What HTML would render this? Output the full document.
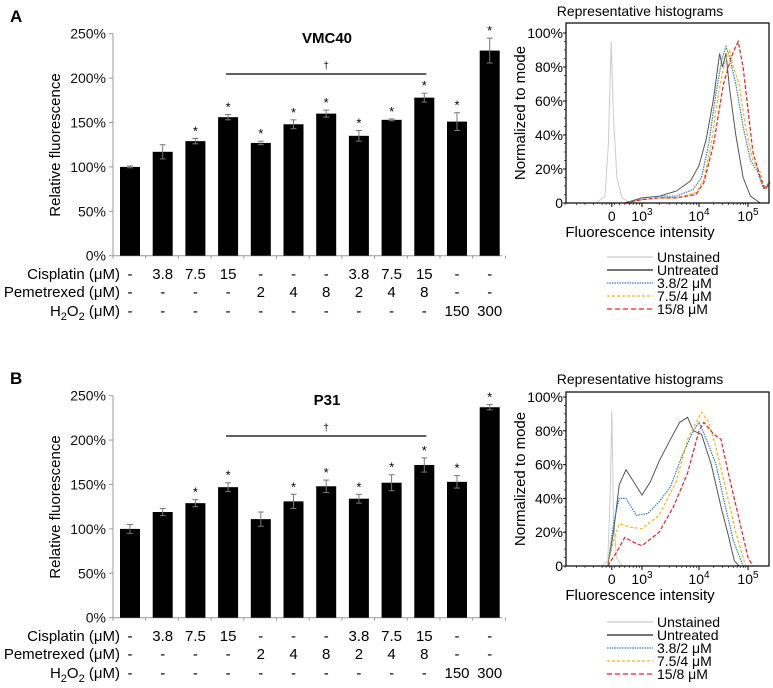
<!DOCTYPE html>
<html><head><meta charset="utf-8"><style>
html,body{margin:0;padding:0;background:#fff;}
svg{display:block;font-family:"Liberation Sans",Arial,sans-serif;}
</style></head><body>
<svg id="fig" width="773" height="688" viewBox="0 0 773 688" xmlns="http://www.w3.org/2000/svg"></svg>
<script>
const categories = ["ctrl","C3.8","C7.5","C15","P2","P4","P8","C3.8P2","C7.5P4","C15P8","H150","H300"];
const cisplatinLabels = ["-","3.8","7.5","15","-","-","-","3.8","7.5","15","-","-"];
const pemetrexedLabels = ["-","-","-","-","2","4","8","2","4","8","-","-"];
const h2o2Labels = ["-","-","-","-","-","-","-","-","-","-","150","300"];
const valuesA = [100,117,129,156,127,148,160,135,153,178,151,231];
const errorsA = [1,8,3,3,2,5,4,6,1,5,10,14];
const starsA = [0,0,1,1,1,1,1,1,1,1,1,1];
const valuesB = [100,119,129,147,111,131,148,134,152,172,153,237];
const errorsB = [5,4,4,5,8,8,7,5,9,8,7,3];
const starsB = [0,0,1,1,0,1,1,1,1,1,1,1];
const yTicks = [0,50,100,150,200,250];
const histYTicks = [0,20,40,60,80,100];
const histXTicks = [[2.47,"0",""],[3,"10","3"],[4,"10","4"],[5,"10","5"]];
// histogram curves: [decade position, percent of mode]
const hA_unstained=[[2.2,0],[2.35,4],[2.41,35],[2.46,95],[2.5,50],[2.56,15],[2.65,3],[2.8,0]];
const hA_untreated=[[2.7,0],[3,3],[3.3,4],[3.6,7],[3.85,13],[4,22],[4.15,38],[4.3,62],[4.42,88],[4.48,80],[4.55,88],[4.62,68],[4.75,40],[4.9,15],[5.05,4],[5.25,0]];
const hA_blue=[[2.7,0],[3,3],[3.3,4],[3.6,4],[3.9,8],[4.05,15],[4.2,35],[4.35,65],[4.47,85],[4.55,92],[4.62,86],[4.75,70],[4.9,45],[5.05,25],[5.2,18],[5.32,8],[5.45,13]];
const hA_yellow=[[2.7,0],[3,2],[3.3,3],[3.6,3],[3.95,6],[4.1,14],[4.25,35],[4.4,65],[4.52,82],[4.62,90],[4.7,80],[4.82,70],[4.95,45],[5.1,25],[5.25,18],[5.35,8],[5.45,12]];
const hA_red=[[2.7,0],[3,2],[3.3,3],[3.6,3],[3.95,5],[4.1,12],[4.3,35],[4.5,70],[4.65,85],[4.72,90],[4.8,95],[4.9,80],[5,55],[5.1,30],[5.25,15],[5.35,8],[5.45,12]];
const hB_unstained=[[2.3,0],[2.4,3],[2.44,40],[2.47,92],[2.5,30],[2.55,5],[2.65,0]];
const hB_untreated=[[2.4,0],[2.5,20],[2.6,48],[2.72,57],[2.85,50],[3,42],[3.15,50],[3.3,62],[3.5,75],[3.66,85],[3.8,88],[3.9,80],[4.05,78],[4.25,60],[4.45,35],[4.6,18],[4.72,3],[4.82,0]];
const hB_blue=[[2.4,0],[2.5,25],[2.6,40],[2.72,40],[2.9,30],[3.1,31],[3.3,38],[3.5,47],[3.7,65],[3.9,80],[4.0,85],[4.15,75],[4.35,60],[4.5,40],[4.7,15],[4.9,0]];
const hB_yellow=[[2.4,0],[2.5,15],[2.6,25],[2.8,23],[3.0,22],[3.3,30],[3.6,50],[3.8,75],[3.95,85],[4.05,91],[4.2,85],[4.35,70],[4.55,45],[4.75,20],[4.95,0]];
const hB_red=[[2.4,0],[2.55,8],[2.7,17],[2.85,14],[3.0,12],[3.3,20],[3.55,35],[3.8,55],[4.0,80],[4.1,85],[4.3,78],[4.45,75],[4.6,55],[4.8,30],[5.0,5],[5.1,0]];

const NS="http://www.w3.org/2000/svg";
const svg=document.getElementById('fig');
function mk(tag,attrs,parent){const e=document.createElementNS(NS,tag);for(const k in attrs)e.setAttribute(k,attrs[k]);(parent||svg).appendChild(e);return e;}
function txt(x,y,s,attrs,parent){const t=mk('text',Object.assign({x:x,y:y},attrs||{}),parent);t.textContent=s;return t;}

function barPanel(off,letter,title,values,errors,stars,prefix){
  const g=mk('g',{});
  
  
  const y0=255.7+off, pxPer=0.888;
  const ys=v=>y0-v*pxPer;
  const xs=i=>130+i*32.7;
  const pl=txt(10,off+22,letter,{'font-size':17,'font-weight':'bold'},g);
  
  mk('line',{x1:113,y1:ys(250),x2:113,y2:y0,stroke:'#999','stroke-width':1},g);
  mk('line',{x1:113,y1:y0,x2:502,y2:y0,stroke:'#999','stroke-width':1},g);
  yTicks.forEach(v=>{
    mk('line',{x1:109,y1:ys(v),x2:113,y2:ys(v),stroke:'#999'},g);
    const t=txt(106,ys(v)+5,v+'%',{'font-size':14,'text-anchor':'end',fill:'#111'},g);
    
  });
  for(let i=0;i<=categories.length;i++){const x=113+i*32.7;mk('line',{x1:x,y1:y0,x2:x,y2:y0+3,stroke:'#999'},g);}
  const yl=txt(0,0,'Relative fluorescence',{'font-size':15,'text-anchor':'middle',transform:`translate(60,${off+145}) rotate(-90)`},g);
  
  const tt=txt(327,off+43,title,{'font-size':15,'font-weight':'bold','text-anchor':'middle'},g);
  
  mk('line',{x1:xs(3)-2,y1:off+74,x2:xs(9)+2,y2:off+74,stroke:'#000','stroke-width':1.3},g);
  const dg=txt((xs(3)+xs(9))/2,off+69,'†',{'font-size':10,'text-anchor':'middle'},g);
  
  values.forEach((v,i)=>{
    const b=mk('rect',{x:xs(i)-10,y:ys(v),width:20,height:y0-ys(v),fill:'#000'},g);
    
    
    const e=errors[i];
    mk('line',{x1:xs(i),y1:ys(v+e),x2:xs(i),y2:ys(v-e),stroke:'#777','stroke-width':1},g);
    mk('line',{x1:xs(i)-3,y1:ys(v+e),x2:xs(i)+3,y2:ys(v+e),stroke:'#777'},g);
    mk('line',{x1:xs(i)-3,y1:ys(v-e),x2:xs(i)+3,y2:ys(v-e),stroke:'#777'},g);
    if(stars[i]){const s=txt(xs(i),ys(v+e)-3,'*',{'font-size':13,'text-anchor':'middle'},g);
      }
  });
  const rows=[['Cisplatin (μM)',cisplatinLabels,274],['Pemetrexed (μM)',pemetrexedLabels,292],['H2O2',h2o2Labels,311]];
  rows.forEach(r=>{
    const yy=r[2]+off+5;
    let t;
    if(r[0]==='H2O2'){t=mk('text',{x:120,y:yy,'font-size':15,'text-anchor':'end'},g);
      t.innerHTML='H<tspan dy="4" font-size="11">2</tspan><tspan dy="-4">O</tspan><tspan dy="4" font-size="11">2</tspan><tspan dy="-4"> (μM)</tspan>';}
    else t=txt(120,yy,r[0],{'font-size':15,'text-anchor':'end'},g);
    
    r[1].forEach((s,i)=>{const c=txt(xs(i),yy,s,{'font-size':15,'text-anchor':'middle'},g);
      });
  });
}
function histPanel(top,zero,full,curves,prefix,titleY){
  const g=mk('g',{});
  
  
  const L=566,R=769;
  const xs=d=>d<=4?642+(d-3)*57:699+(d-4)*49;
  const ys=p=>zero-p*(zero-full)/100;
  const t=txt(640,titleY,'Representative histograms',{'font-size':14,'text-anchor':'middle'},g);
  
  histYTicks.forEach(p=>{
    mk('line',{x1:L-3,y1:ys(p),x2:L,y2:ys(p),stroke:'#000'},g);
    for(let k=1;k<4&&p<100;k++){const yy=ys(p+k*5);mk('line',{x1:L-2,y1:yy,x2:L,y2:yy,stroke:'#000','stroke-width':0.6},g);}
    const l=txt(L-3,ys(p)+5,p===0?'0':p+'%',{'font-size':14,'text-anchor':'end'},g);
    
  });
  const yl=txt(0,0,'Normalized to mode',{'font-size':15,'text-anchor':'middle',transform:`translate(525,${(top+zero)/2}) rotate(-90)`},g);
  
  [1.65,1.85,2.0,2.15,2.3,2.37,2.43,2.52,2.6].forEach(d=>mk('line',{x1:xs(d),y1:zero,x2:xs(d),y2:zero+2,stroke:'#000','stroke-width':0.6},g));
  [3,4,5].forEach(dec=>{for(let k=2;k<10;k++){const d=dec-1+Math.log10(k);if(d>2.6)mk('line',{x1:xs(d),y1:zero,x2:xs(d),y2:zero+2,stroke:'#000','stroke-width':0.6},g);}});
  histXTicks.forEach(tk=>{
    mk('line',{x1:xs(tk[0]),y1:zero,x2:xs(tk[0]),y2:zero+4,stroke:'#000'},g);
    const l=mk('text',{x:xs(tk[0]),y:zero+18,'font-size':14,'text-anchor':'middle'},g);
    l.innerHTML=tk[1]+(tk[2]?'<tspan dy="-6" font-size="10">'+tk[2]+'</tspan>':'');
    
  });
  const xl=txt(640,zero+34,'Fluorescence intensity',{'font-size':15,'text-anchor':'middle'},g);
  
  const styles=[['#ccc','',1],['#555','',1],['#2f7fc8','1.5,1',1.2],['#f5b800','3,2',1.2],['#e8202a','4,2',1.2]];
  const names=['unstained','untreated','3.8-2','7.5-4','15-8'];
  curves.forEach((c,i)=>{
    const d=c.map((p,j)=>(j?'L':'M')+xs(p[0]).toFixed(1)+','+ys(p[1]).toFixed(1)).join(' ');
    const path=mk('path',{d:d,fill:'none',stroke:styles[i][0],'stroke-width':styles[i][2],'stroke-dasharray':styles[i][1]},g);
    
    
  });
  mk('rect',{x:L,y:top,width:R-L,height:zero-top,fill:'none',stroke:'#000','stroke-width':1.2},g);
}
function legend(off,prefix){
  const g=mk('g',{});
  
  
  const items=[['Unstained','#ccc',''],['Untreated','#222',''],['3.8/2 μM','#2f7fc8','1.5,1'],['7.5/4 μM','#f5b800','3,2'],['15/8 μM','#e8202a','5,3']];
  items.forEach((it,i)=>{
    const y=off+257+i*13;
    mk('line',{x1:607,y1:y,x2:653,y2:y,stroke:it[1],'stroke-width':1.3,'stroke-dasharray':it[2]},g);
    const t=txt(657,y+5,it[0],{'font-size':14},g);
    
  });
}
barPanel(0,'A','VMC40',valuesA,errorsA,starsA,'vmc40');
barPanel(362,'B','P31',valuesB,errorsB,starsB,'p31');
histPanel(23,203,33,[hA_unstained,hA_untreated,hA_blue,hA_yellow,hA_red],'vmc40',16);
histPanel(392,566,397,[hB_unstained,hB_untreated,hB_blue,hB_yellow,hB_red],'p31',384);
legend(0,'vmc40');
legend(365,'p31');
</script>
</body></html>
